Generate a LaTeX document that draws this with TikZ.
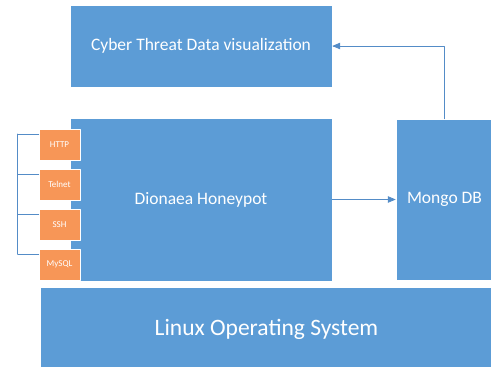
\documentclass[tikz,border=0pt]{standalone}
\usepackage{fontspec}
\setmainfont{Carlito}
\usetikzlibrary{arrows}
\definecolor{qqblue}{rgb}{0.36,0.61,0.84}
\definecolor{qqline}{rgb}{0.33,0.55,0.78}
\definecolor{qqorange}{rgb}{0.97,0.59,0.34}

\begin{document}
\begin{tikzpicture}[line cap=round,line join=round,>=triangle 45,x=1pt,y=-1pt,
    layer/.style={draw=white,line width=0.6pt,fill=qqblue,text=white,inner sep=0pt,font=\fontsize{17.5}{20}\selectfont},
    proto/.style={draw=white,line width=0.6pt,fill=qqorange,text=white,inner sep=0pt,minimum width=41pt,minimum height=31pt,font=\fontsize{9}{10}\selectfont},
    flow/.style={->,color=qqline,line width=0.8pt},
    bracket/.style={color=qqline,line width=0.8pt}]
      \useasboundingbox (0,0) rectangle (491,367);
      \clip (0,0) rectangle (491,367);
      \node[layer,minimum width=262pt,minimum height=82pt] (vis) at (201,46) {Cyber Threat Data visualization};
      \node[layer,minimum width=262pt,minimum height=163pt] (honeypot) at (201,199.5) {Dionaea Honeypot};
      \node[layer,minimum width=97pt,minimum height=161pt] (mongo) at (444.5,199.5) {Mongo DB};
      \node[layer,minimum width=453pt,minimum height=84pt,font=\fontsize{23.5}{26}\selectfont] (linux) at (266.5,329) {Linux Operating System};
      \node[proto] (http) at (59.5,144.5) {HTTP};
      \node[proto] (telnet) at (59.5,184.5) {Telnet};
      \node[proto] (ssh) at (59.5,224.5) {SSH};
      \node[proto] (mysql) at (59.5,264.5) {MySQL};
      % protocol bracket
      \coordinate (btop) at ([xshift=-21pt,yshift=10.5pt]http.west);
      \coordinate (bbot) at ([xshift=-21pt,yshift=10.5pt]mysql.west);
      \draw [bracket] (btop) -- (bbot);
      \foreach \p in {http,telnet,ssh,mysql}
        \draw [bracket] ([yshift=10.5pt]\p.west) -- +(-21pt,0);
      % data flow
      \draw [flow] (honeypot.east) -- (honeypot.east -| mongo.west);
      \draw [flow] (mongo.north) |- (vis.east);
\end{tikzpicture}
\end{document}
